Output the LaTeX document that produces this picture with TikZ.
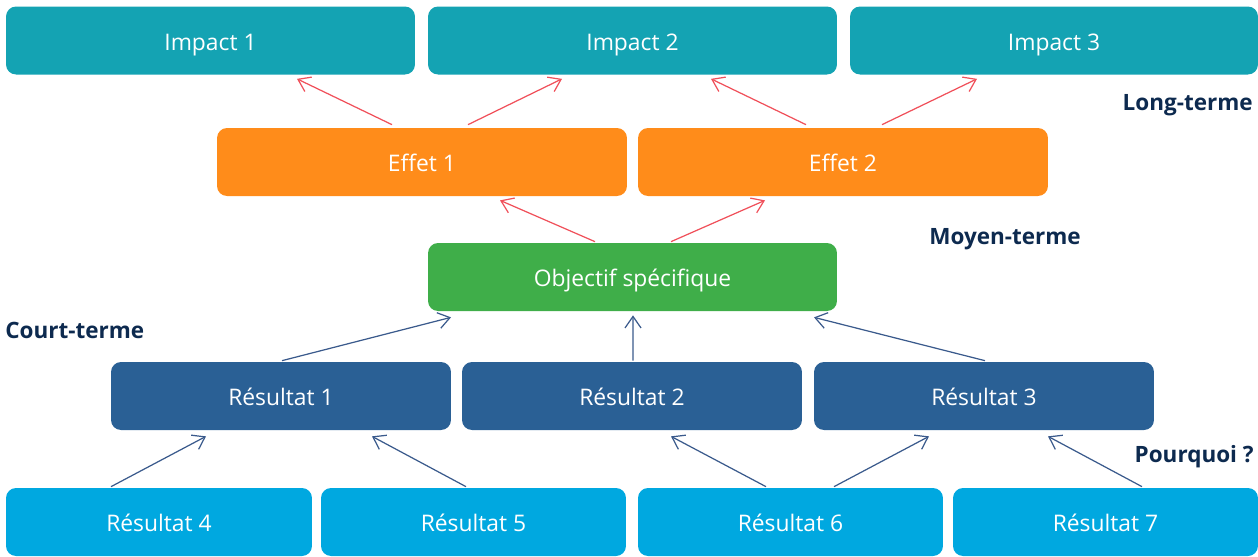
\documentclass[tikz,border=0pt]{standalone}
\usepackage{fontspec}
\setmainfont{Open Sans}
\usetikzlibrary{arrows.meta,calc}

\definecolor{impactcol}{HTML}{14A3B3}
\definecolor{effetcol}{HTML}{FF8C1A}
\definecolor{objcol}{HTML}{3FAE49}
\definecolor{rescol}{HTML}{2A6095}
\definecolor{souscol}{HTML}{00A8E0}
\definecolor{flecherouge}{HTML}{F0505A}
\definecolor{flechebleue}{HTML}{3A5A8C}
\definecolor{niveaucol}{HTML}{0D2A4F}

\tikzset{
  boite/.style={rounded corners=0.2cm, minimum height=1.36cm, text=white,
    font=\fontsize{13}{15}\selectfont, inner sep=0pt, text height=11pt, text depth=0pt},
  niveau/.style={text=niveaucol, font=\fontsize{12.8}{14}\selectfont\bfseries, inner sep=0pt},
  fleche/.style={line width=0.7pt, -{Straight Barb[length=2.3mm,width=3.2mm,line width=0.7pt]}},
}

\begin{document}
\begin{tikzpicture}[x=0.02cm, y=-0.02cm]
    \useasboundingbox (0,0) rectangle (1258,556);
    % Impacts (long terme)
    \node[boite, fill=impactcol, minimum width=8.18cm] (i1) at (210.5,40.5) {Impact 1};
    \node[boite, fill=impactcol, minimum width=8.18cm] (i2) at (632.5,40.5) {Impact 2};
    \node[boite, fill=impactcol, minimum width=8.16cm] (i3) at (1054,40.5) {Impact 3};
    % Effets (moyen terme)
    \node[boite, fill=effetcol, minimum width=8.2cm] (e1) at (422,162) {Effet 1};
    \node[boite, fill=effetcol, minimum width=8.2cm] (e2) at (843,162) {Effet 2};
    % Objectif
    \node[boite, fill=objcol, minimum width=8.18cm] (o) at (632.5,277) {Objectif spécifique};
    % Résultats
    \node[boite, fill=rescol, minimum width=6.8cm] (r1) at (281,396) {Résultat 1};
    \node[boite, fill=rescol, minimum width=6.8cm] (r2) at (632,396) {Résultat 2};
    \node[boite, fill=rescol, minimum width=6.8cm] (r3) at (984,396) {Résultat 3};
    \node[boite, fill=souscol, minimum width=6.12cm] (r4) at (159,522) {Résultat 4};
    \node[boite, fill=souscol, minimum width=6.1cm] (r5) at (473.5,522) {Résultat 5};
    \node[boite, fill=souscol, minimum width=6.1cm] (r6) at (790.5,522) {Résultat 6};
    \node[boite, fill=souscol, minimum width=6.1cm] (r7) at (1105.5,522) {Résultat 7};
    % Niveaux
    \node[niveau, anchor=east] (lt) at (1253,105) {Long-terme};
    \node[niveau, anchor=west] (mt) at (929,239) {Moyen-terme};
    \node[niveau, anchor=west] (ct) at (5,330) {Court-terme};
    \node[niveau, anchor=east] (pq) at (1254,457) {Pourquoi ?};
    % Flèches rouges
    \draw[fleche, flecherouge] ($(e1.north)+(-30,-3)$) -- ($(i1.south)+(86.5,4)$);
    \draw[fleche, flecherouge] ($(e1.north)+(46,-3)$) -- ($(i2.south)+(-70.5,4)$);
    \draw[fleche, flecherouge] ($(e2.north)+(-37,-3)$) -- ($(i2.south)+(78.5,4)$);
    \draw[fleche, flecherouge] ($(e2.north)+(39,-3)$) -- ($(i3.south)+(-77,4)$);
    \draw[fleche, flecherouge] ($(o.north)+(-37.5,-1)$) -- ($(e1.south)+(78,4)$);
    \draw[fleche, flecherouge] ($(o.north)+(38.5,-1)$) -- ($(e2.south)+(-78,4)$);
    % Flèches bleues
    \draw[fleche, flechebleue] ($(r1.north)+(1,-1)$) -- ($(o.south)+(-181.5,6)$);
    \draw[fleche, flechebleue] ($(r2.north)+(1,-1)$) -- ($(o.south)+(0.5,4)$);
    \draw[fleche, flechebleue] ($(r3.north)+(1,-1)$) -- ($(o.south)+(181.5,6)$);
    \draw[fleche, flechebleue] ($(r4.north)+(-48,-1)$) -- ($(r1.south)+(-75,6)$);
    \draw[fleche, flechebleue] ($(r5.north)+(-7.5,-1)$) -- ($(r1.south)+(91,6)$);
    \draw[fleche, flechebleue] ($(r6.north)+(-24.5,-1)$) -- ($(r2.south)+(39,6)$);
    \draw[fleche, flechebleue] ($(r6.north)+(43.5,-1)$) -- ($(r3.south)+(-55,6)$);
    \draw[fleche, flechebleue] ($(r7.north)+(36.5,-1)$) -- ($(r3.south)+(64,6)$);
\end{tikzpicture}
\end{document}
